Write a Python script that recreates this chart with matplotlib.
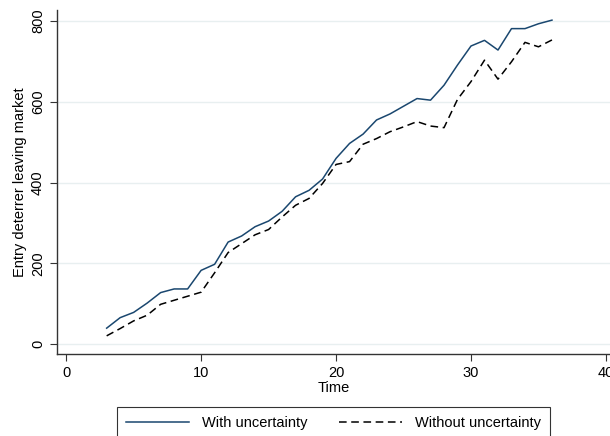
import numpy as np
import matplotlib
matplotlib.use('Agg')
import matplotlib.pyplot as plt

plt.rcParams['font.family'] = ['Liberation Sans', 'DejaVu Sans']

time = list(range(3, 37))
with_unc = [40, 66, 79, 102, 128, 137, 137, 183, 198, 253, 268, 291,
            305, 329, 365, 381, 409, 460, 497, 520, 555, 570, 589, 608,
            604, 641, 691, 738, 752, 728, 781, 781, 793, 802]
without_unc = [21, 39, 58, 72, 99, 109, 119, 129, 177, 227, 249, 271,
               284, 315, 344, 361, 398, 445, 452, 495, 509, 526, 538, 551,
               540, 536, 606, 650, 703, 656, 699, 747, 736, 753]

x_ticks = [0, 10, 20, 30, 40]
y_ticks = [0, 200, 400, 600, 800]

fig = plt.figure(figsize=(6.10, 4.36), dpi=100)
ax = fig.add_axes([0.093, 0.188, 0.907, 0.789])

ax.plot(time, with_unc, color='#1a476f', lw=1.1, label='With uncertainty')
ax.plot(time, without_unc, color='black', lw=1.1, linestyle=(0, (5, 3)),
        label='Without uncertainty')

ax.set_xlim(-0.7, 40.3)
ax.set_ylim(-24, 827)
ax.set_xticks(x_ticks)
ax.set_yticks(y_ticks)
ax.set_yticklabels([str(v) for v in y_ticks], rotation=90, va='center')
ax.tick_params(labelsize=10.5, length=5, width=0.8, color='#333333')
ax.grid(axis='y', color='#e8eff0', lw=1)
ax.set_axisbelow(True)

for s in ['top', 'right']:
    ax.spines[s].set_visible(False)
for s in ['left', 'bottom']:
    ax.spines[s].set_color('#333333')
    ax.spines[s].set_linewidth(1)

ax.set_xlabel('Time', fontsize=10.5, labelpad=1)
ax.set_ylabel('Entry deterrer leaving market', fontsize=10.5, labelpad=3)

leg = fig.legend(loc='upper left', bbox_to_anchor=(117.3 / 610, 1 - 407.3 / 436),
                 ncol=2, frameon=True, fancybox=False, fontsize=10.5,
                 handlelength=4.3, handletextpad=0.9, columnspacing=2.2,
                 borderpad=0.6, borderaxespad=0)
leg.get_frame().set_edgecolor('black')
leg.get_frame().set_linewidth(0.8)

fig.savefig('out.png', dpi=100)
